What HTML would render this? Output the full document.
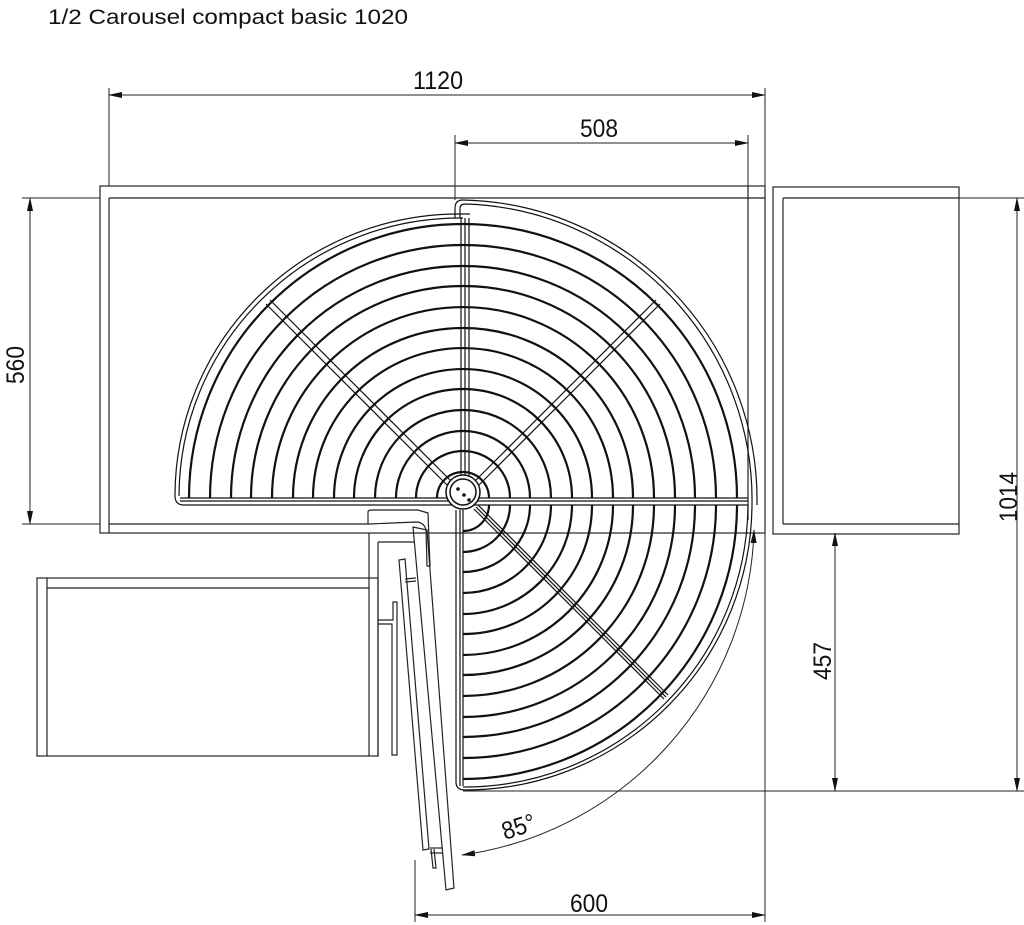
<!DOCTYPE html>
<html><head><meta charset="utf-8"><style>
html,body{margin:0;padding:0;background:#fff;}
svg{display:block;}
text{font-family:"Liberation Sans",sans-serif;fill:#111;}
</style></head><body>
<svg width="1024" height="925" viewBox="0 0 1024 925" xmlns="http://www.w3.org/2000/svg">
<defs>
<marker id="ar" markerWidth="14" markerHeight="8" refX="13" refY="4" orient="auto-start-reverse" markerUnits="userSpaceOnUse">
<path d="M0,1 L14,4 L0,7 z" fill="#111"/></marker>
</defs>
<text x="48" y="24" font-size="21" textLength="360" lengthAdjust="spacingAndGlyphs" fill="#222">1/2 Carousel compact basic 1020</text>

<g stroke="#222" fill="none" stroke-width="1.2">
<rect x="100" y="186" width="665" height="347"/>
<line x1="109" y1="198" x2="765" y2="198"/>
<line x1="109" y1="198" x2="109" y2="533"/>
<line x1="109" y1="524" x2="369" y2="524"/>
<line x1="748" y1="186" x2="748" y2="520"/>
<rect x="773" y="187" width="186" height="347"/>
<line x1="783" y1="198" x2="959" y2="198"/>
<line x1="783" y1="198" x2="783" y2="524"/>
<line x1="783" y1="524" x2="959" y2="524"/>
<rect x="37" y="578" width="341" height="178"/>
<line x1="47" y1="578" x2="47" y2="756"/>
<line x1="47" y1="588" x2="369" y2="588"/>
<line x1="369" y1="533" x2="369" y2="756"/>
<line x1="378" y1="542" x2="378" y2="756"/>
<line x1="378" y1="542" x2="415" y2="542"/>
<path d="M378 620 L393 620 L393 602 L397 602 L397 755 L392 755 L392 624 L378 624"/>
<path d="M368 524 L368 512 Q368 510 372 510 L418 510 L428 513 L430 566 L427 566 L426 530 Q424 522 416 522 L369 524"/>
<path d="M413 527 L446 890 L454 888 L427 530 Z"/>
<path d="M399 560 L423 850 L429 849 L405 559 Z"/>
<line x1="405" y1="579" x2="416" y2="578"/>
<line x1="405" y1="582" x2="416" y2="581"/>
<line x1="430" y1="848" x2="443" y2="848"/>
<line x1="430" y1="853" x2="443" y2="853"/>
<path d="M431 849 L433 868 L436 868 L434 849"/>
</g>

<g stroke="#111" fill="none" stroke-width="2.2">
<path d="M437 498 A26 26 0 0 1 489 498"/>
<path d="M416 498 A47 47 0 0 1 510 498"/>
<path d="M396 498 A67 67 0 0 1 530 498"/>
<path d="M375 498 A88 88 0 0 1 551 498"/>
<path d="M354 498 A109 109 0 0 1 572 498"/>
<path d="M334 498 A129 129 0 0 1 592 498"/>
<path d="M313 498 A150 150 0 0 1 613 498"/>
<path d="M293 498 A170 170 0 0 1 633 498"/>
<path d="M272 498 A191 191 0 0 1 654 498"/>
<path d="M251 498 A212 212 0 0 1 675 498"/>
<path d="M231 498 A232 232 0 0 1 695 498"/>
<path d="M210 498 A253 253 0 0 1 716 498"/>
<path d="M189 498 A274 274 0 0 1 737 498"/>
</g>
<g stroke="#111" fill="none" stroke-width="1.2">
<path d="M175 496 A284 282 0 0 1 463 214 L470 214"/>
<path d="M179 496 A281 279 0 0 1 463 218"/>
<path d="M175 496 Q175 505 184 505 L748 505"/>
<line x1="180" y1="498" x2="748" y2="498"/>
<line x1="180" y1="501" x2="748" y2="501"/>
<line x1="461" y1="218" x2="461" y2="478"/>
<line x1="465" y1="218" x2="465" y2="478"/>
<line x1="469" y1="218" x2="469" y2="478"/>
<line x1="270" y1="300" x2="452" y2="482"/>
<line x1="266" y1="304" x2="448" y2="486"/>
<line x1="656" y1="300" x2="474" y2="482"/>
<line x1="660" y1="304" x2="478" y2="486"/>
<path d="M455 218 L455 208 Q455 200 463 200 A300 300 0 0 1 757 505"/>
<path d="M460 218 L460 208 Q460 204 466 204 A296 296 0 0 1 752 505"/>
</g>
<g stroke="#111" fill="none" stroke-width="2.2">
<path d="M489 505 A26 26 0 0 1 463 531"/>
<path d="M510 505 A47 47 0 0 1 463 552"/>
<path d="M530 505 A67 67 0 0 1 463 572"/>
<path d="M551 505 A88 88 0 0 1 463 593"/>
<path d="M572 505 A109 109 0 0 1 463 614"/>
<path d="M592 505 A129 129 0 0 1 463 634"/>
<path d="M613 505 A150 150 0 0 1 463 655"/>
<path d="M633 505 A170 170 0 0 1 463 675"/>
<path d="M654 505 A191 191 0 0 1 463 696"/>
<path d="M675 505 A212 212 0 0 1 463 717"/>
<path d="M695 505 A232 232 0 0 1 463 737"/>
<path d="M716 505 A253 253 0 0 1 463 758"/>
<path d="M737 505 A274 274 0 0 1 463 779"/>
</g>
<g stroke="#111" fill="none" stroke-width="1.2">
<path d="M752 505 A287 287 0 0 1 465 790 Q456 790 456 782 L456 510"/>
<path d="M748 505 A284 284 0 0 1 463 787"/>
<line x1="460" y1="510" x2="460" y2="786"/>
<line x1="463" y1="510" x2="463" y2="786"/>
<line x1="474" y1="509" x2="664" y2="699"/>
<line x1="478" y1="505" x2="668" y2="695"/>
<line x1="476" y1="507" x2="666" y2="697"/>
<circle cx="463" cy="492" r="17" fill="#fff" stroke-width="1.5"/>
<circle cx="463" cy="492" r="13" stroke-width="1.5"/>
</g>
<circle cx="458" cy="489" r="1.8" fill="#111"/><circle cx="464" cy="495" r="1.8" fill="#111"/><circle cx="469" cy="500" r="1.8" fill="#111"/>

<g stroke="#222" fill="none" stroke-width="1">
<line x1="109" y1="88" x2="109" y2="186"/>
<line x1="765" y1="88" x2="765" y2="186"/>
<line x1="109" y1="95" x2="765" y2="95" marker-end="url(#ar)" marker-start="url(#ar)"/>
<line x1="455" y1="135" x2="455" y2="200"/>
<line x1="748" y1="135" x2="748" y2="186"/>
<line x1="455" y1="143" x2="748" y2="143" marker-end="url(#ar)" marker-start="url(#ar)"/>
<line x1="22" y1="198" x2="100" y2="198"/>
<line x1="22" y1="524" x2="100" y2="524"/>
<line x1="30" y1="198" x2="30" y2="524" marker-end="url(#ar)" marker-start="url(#ar)"/>
<line x1="959" y1="198" x2="1024" y2="198"/>
<line x1="463" y1="791" x2="1024" y2="791"/>
<line x1="1017" y1="198" x2="1017" y2="791" marker-end="url(#ar)" marker-start="url(#ar)"/>
<line x1="835" y1="533" x2="835" y2="791" marker-end="url(#ar)" marker-start="url(#ar)"/>
<line x1="765" y1="533" x2="765" y2="922"/>
<line x1="415" y1="860" x2="415" y2="922"/>
<line x1="415" y1="915" x2="765" y2="915" marker-end="url(#ar)" marker-start="url(#ar)"/>
<path d="M754 530 A338 338 0 0 1 462 855" marker-end="url(#ar)" marker-start="url(#ar)"/>
</g>
<g font-size="25">
<text x="413" y="89" textLength="50" lengthAdjust="spacingAndGlyphs">1120</text>
<text x="580" y="137" textLength="38" lengthAdjust="spacingAndGlyphs">508</text>
<text x="570" y="912" textLength="38" lengthAdjust="spacingAndGlyphs">600</text>
<text x="0" y="0" textLength="38" lengthAdjust="spacingAndGlyphs" transform="translate(24 384) rotate(-90)">560</text>
<text x="0" y="0" textLength="50" lengthAdjust="spacingAndGlyphs" transform="translate(1017 522) rotate(-90)">1014</text>
<text x="0" y="0" textLength="38" lengthAdjust="spacingAndGlyphs" transform="translate(831 680) rotate(-90)">457</text>
<text x="0" y="0" textLength="34" lengthAdjust="spacingAndGlyphs" transform="translate(505 840) rotate(-18)">85°</text>
</g>
</svg>
</body></html>
